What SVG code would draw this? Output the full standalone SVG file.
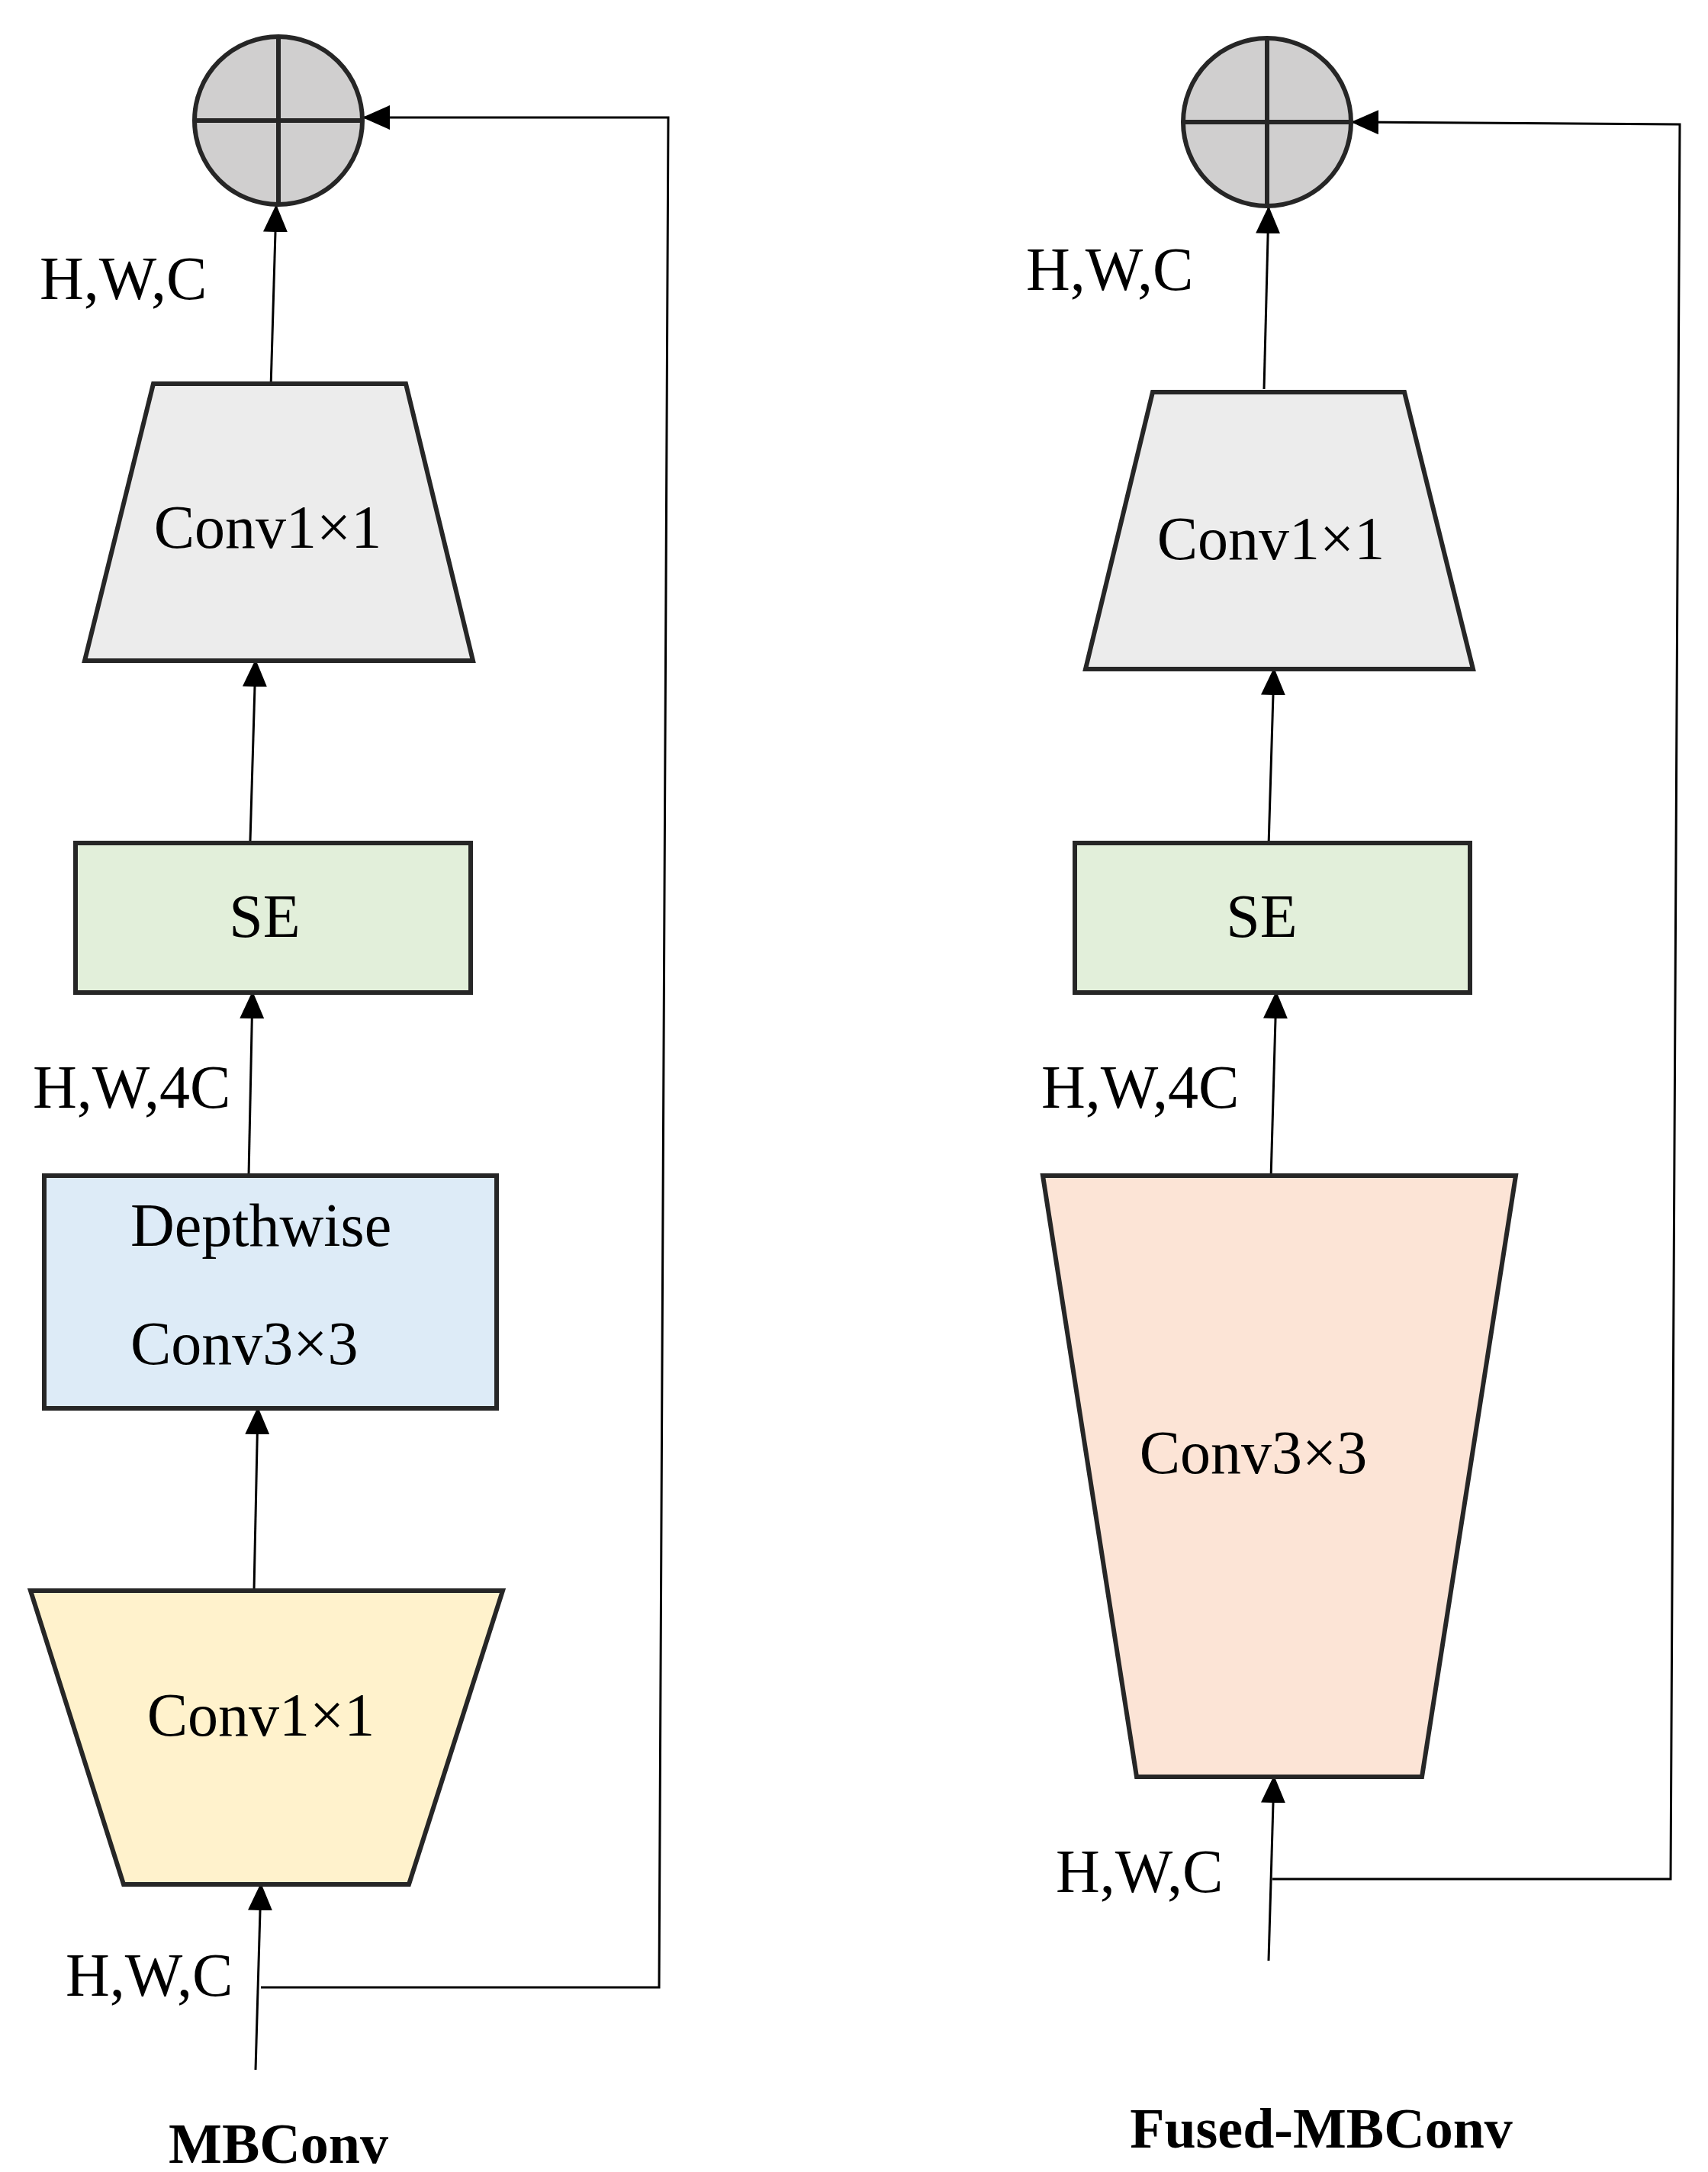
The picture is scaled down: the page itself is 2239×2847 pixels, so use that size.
<svg xmlns="http://www.w3.org/2000/svg" width="2239" height="2847" viewBox="0 0 2239 2847">
<style>
.s{stroke:#262626;stroke-width:6;}
.t{font-family:"Liberation Serif",serif;font-size:80px;fill:#000;}
.b{font-family:"Liberation Serif",serif;font-size:74px;font-weight:bold;fill:#000;}
.c{fill:none;stroke:#000;stroke-width:3;}
</style>
<defs>
<marker id="a" markerWidth="36" markerHeight="32" refX="34" refY="16" orient="auto" markerUnits="userSpaceOnUse" viewBox="0 0 36 32">
<path d="M0,0L36,16L0,32z" fill="#000"/>
</marker>
</defs>
<rect width="2239" height="2847" fill="#fff"/>
<g id="connectors">
<line class="c" x1="355" y1="508" x2="362" y2="270" marker-end="url(#a)"/>
<line class="c" x1="328" y1="1102" x2="335" y2="866" marker-end="url(#a)"/>
<line class="c" x1="326" y1="1541" x2="331" y2="1301" marker-end="url(#a)"/>
<line class="c" x1="333" y1="2084" x2="338" y2="1846" marker-end="url(#a)"/>
<line class="c" x1="335" y1="2713" x2="342" y2="2470" marker-end="url(#a)"/>
<polyline class="c" points="342,2605 864,2605 876,154 477,154" marker-end="url(#a)"/>
<line class="c" x1="1657" y1="510" x2="1663" y2="272" marker-end="url(#a)"/>
<line class="c" x1="1663" y1="1109" x2="1670" y2="877" marker-end="url(#a)"/>
<line class="c" x1="1666" y1="1545" x2="1673" y2="1301" marker-end="url(#a)"/>
<line class="c" x1="1663" y1="2570" x2="1670" y2="2329" marker-end="url(#a)"/>
<polyline class="c" points="1668,2463 2190,2463 2202,163 1773,160" marker-end="url(#a)"/>
</g>
<g id="add1"><circle class="s" cx="365" cy="158" r="110" fill="#d0cfcf"/><line class="s" x1="255" y1="158" x2="475" y2="158"/><line class="s" x1="365" y1="48" x2="365" y2="268"/></g>
<g id="add2"><circle class="s" cx="1661" cy="160" r="110" fill="#d0cfcf"/><line class="s" x1="1551" y1="160" x2="1771" y2="160"/><line class="s" x1="1661" y1="50" x2="1661" y2="270"/></g>
<g id="conv1x1_top_l"><polygon class="s" fill="#ececec" points="201,503 532,503 620,866 111,866"/><text class="t" x="351" y="718" text-anchor="middle">Conv1×1</text></g>
<g id="se_l"><rect class="s" fill="#e2efda" x="99" y="1105" width="518" height="196"/><text class="t" x="347" y="1228" text-anchor="middle">SE</text></g>
<g id="dw_l"><rect class="s" fill="#ddebf7" x="58" y="1541" width="593" height="305"/><text class="t" x="171" y="1633">Depthwise</text><text class="t" x="171" y="1788">Conv3×3</text></g>
<g id="conv1x1_bot_l"><polygon class="s" fill="#fff2cc" points="40,2085 659,2085 536,2470 162,2470"/><text class="t" x="342" y="2275" text-anchor="middle">Conv1×1</text></g>
<g id="conv1x1_top_r"><polygon class="s" fill="#ececec" points="1511,514 1841,514 1931,877 1423,877"/><text class="t" x="1666" y="733" text-anchor="middle">Conv1×1</text></g>
<g id="se_r"><rect class="s" fill="#e2efda" x="1409" y="1105" width="518" height="196"/><text class="t" x="1654" y="1228" text-anchor="middle">SE</text></g>
<g id="conv3x3_r"><polygon class="s" fill="#fce4d6" points="1367,1541 1987,1541 1864,2329 1490,2329"/><text class="t" x="1643" y="1931" text-anchor="middle">Conv3×3</text></g>
<g id="labels">
<text class="t" x="52" y="392">H,W,C</text>
<text class="t" x="43" y="1452">H,W,4C</text>
<text class="t" x="86" y="2616">H,W,C</text>
<text class="t" x="1345" y="380">H,W,C</text>
<text class="t" x="1365" y="1452">H,W,4C</text>
<text class="t" x="1384" y="2480">H,W,C</text>
<text class="b" x="365" y="2835" text-anchor="middle">MBConv</text>
<text class="b" x="1732" y="2815" text-anchor="middle">Fused-MBConv</text>
</g>
</svg>
